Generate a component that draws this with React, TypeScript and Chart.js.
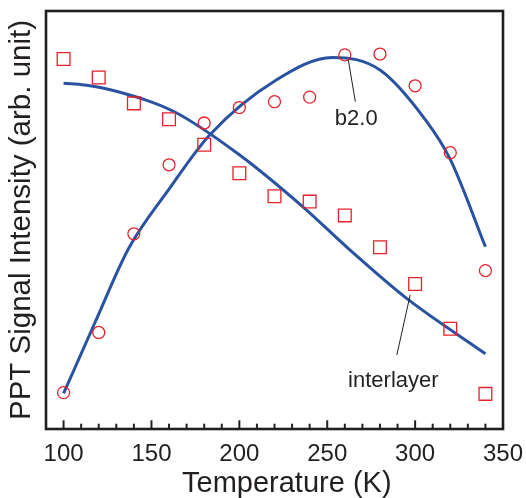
import { useEffect, useRef } from 'react';
import { Chart, registerables } from 'chart.js';

Chart.register(...registerables);

// ---- data ----
const temperatures = [100, 120, 140, 160, 180, 200, 220, 240, 260, 280, 300, 320, 340];
const b20Signal = [8.7, 23.1, 46.7, 63.2, 73.2, 76.9, 78.3, 79.4, 89.5, 89.7, 82.1, 66.1, 37.9];
const interlayerSignal = [88.5, 84.1, 77.9, 74.1, 68.0, 61.2, 55.7, 54.4, 51.1, 43.5, 34.7, 24.0, 8.4];

const b20FitT = [100, 118, 137, 160, 183, 221, 253, 280, 306, 320, 340];
const b20FitV = [8.5, 25.6, 43.2, 57.4, 70.3, 83.5, 88.9, 85.9, 73.9, 64.5, 43.6];

const interFitT = [100, 112, 130, 163, 200, 236, 263, 295, 340];
const interFitV = [82.7, 82.3, 80.8, 75.9, 65.6, 53.2, 42.8, 31.3, 18.0];

const xTickLabels = [100, 150, 200, 250, 300, 350];
const xMinorTicks = [100, 110, 120, 130, 140, 150, 160, 170, 180, 190, 200, 210, 220, 230, 240, 250, 260, 270, 280, 290, 300, 310, 320, 330, 340];

const xTitle = 'Temperature (K)';
const yTitle = 'PPT Signal Intensity (arb. unit)';

const b20Note = { text: 'b2.0', t: 266.5, v: 72.7, x0: 262.0, y0: 88.3, x1: 266.0, y1: 78.3 };
const interNote = { text: 'interlayer', t: 287.6, v: 10.0, x0: 297.2, y0: 32.1, x1: 289.6, y1: 17.7 };

const FONT = '"Liberation Sans", Arial, Helvetica, sans-serif';
const INK = '#231f20';
const BLUE = '#2a52a2';
const RED = '#e3232b';

const decorPlugin = {
  id: 'decor',
  afterDraw(chart: any) {
    const { ctx, chartArea, scales } = chart;
    const xs = scales.x;
    const ys = scales.y;
    ctx.save();
    ctx.strokeStyle = INK;
    ctx.lineWidth = 2.6;
    ctx.strokeRect(chartArea.left, chartArea.top, chartArea.right - chartArea.left, chartArea.bottom - chartArea.top);
    ctx.lineWidth = 2;
    for (const v of xMinorTicks) {
      const px = xs.getPixelForValue(v);
      const len = v % 50 === 0 ? 8.7 : 5.3;
      ctx.beginPath();
      ctx.moveTo(px, chartArea.bottom);
      ctx.lineTo(px, chartArea.bottom - len);
      ctx.stroke();
    }
    ctx.lineWidth = 1;
    ctx.fillStyle = INK;
    ctx.font = `22px ${FONT}`;
    ctx.textAlign = 'center';
    ctx.textBaseline = 'alphabetic';
    for (const n of [b20Note, interNote]) {
      ctx.beginPath();
      ctx.moveTo(xs.getPixelForValue(n.x0), ys.getPixelForValue(n.y0));
      ctx.lineTo(xs.getPixelForValue(n.x1), ys.getPixelForValue(n.y1));
      ctx.stroke();
      ctx.fillText(n.text, xs.getPixelForValue(n.t), ys.getPixelForValue(n.v));
    }
    ctx.font = `29px ${FONT}`;
    const cx = (xs.getPixelForValue(100) + chartArea.right) / 2 + 3.5;
    ctx.fillText(xTitle, cx, chartArea.bottom + 62.5);
    ctx.translate(30, (chartArea.top + chartArea.bottom) / 2);
    ctx.rotate(-Math.PI / 2);
    ctx.font = `29.5px ${FONT}`;
    ctx.fillText(yTitle, 0, 0);
    ctx.restore();
  },
};

export default function App() {
  const canvasRef = useRef<HTMLCanvasElement | null>(null);

  useEffect(() => {
    if (!canvasRef.current) return;
    const chart = new Chart(canvasRef.current, {
      type: 'scatter',
      data: {
        datasets: [
          {
            label: 'b2.0',
            data: temperatures.map((t, i) => ({ x: t, y: b20Signal[i] })),
            showLine: false,
            pointStyle: 'circle',
            pointRadius: 6,
            pointBorderWidth: 1.3,
            borderColor: RED,
            backgroundColor: 'rgba(0,0,0,0)',
          },
          {
            label: 'interlayer',
            data: temperatures.map((t, i) => ({ x: t, y: interlayerSignal[i] })),
            showLine: false,
            pointStyle: 'rect',
            pointRadius: 9,
            pointBorderWidth: 1.3,
            borderColor: RED,
            backgroundColor: 'rgba(0,0,0,0)',
          },
          {
            label: 'b2.0 fit',
            data: b20FitT.map((t, i) => ({ x: t, y: b20FitV[i] })),
            showLine: true,
            pointRadius: 0,
            borderColor: BLUE,
            borderWidth: 3,
            cubicInterpolationMode: 'monotone',
            fill: false,
          },
          {
            label: 'interlayer fit',
            data: interFitT.map((t, i) => ({ x: t, y: interFitV[i] })),
            showLine: true,
            pointRadius: 0,
            borderColor: BLUE,
            borderWidth: 3,
            cubicInterpolationMode: 'monotone',
            fill: false,
          },
        ],
      } as any,
      options: {
        responsive: true,
        maintainAspectRatio: false,
        animation: false,
        layout: { padding: { left: 46, top: 11, right: 23, bottom: 0 } },
        plugins: { legend: { display: false }, tooltip: { enabled: false } },
        scales: {
          x: {
            type: 'linear',
            min: 90,
            max: 350,
            grid: { display: false, drawTicks: false },
            border: { display: false },
            ticks: { font: { size: 24, family: FONT }, color: INK, padding: 11, maxRotation: 0, autoSkip: false },
            afterBuildTicks: (s: any) => {
              s.ticks = xTickLabels.map((v) => ({ value: v }));
            },
            afterFit: (s: any) => {
              s.height = 69;
              s.paddingLeft = 0;
              s.paddingRight = 0;
            },
          },
          y: { display: false, min: 0, max: 100 },
        },
      } as any,
      plugins: [decorPlugin],
    });
    return () => chart.destroy();
  }, []);

  return (
    <div style={{ position: 'fixed', left: 0, top: 0, width: 526, height: 498, background: '#fff' }}>
      <canvas ref={canvasRef} />
    </div>
  );
}
